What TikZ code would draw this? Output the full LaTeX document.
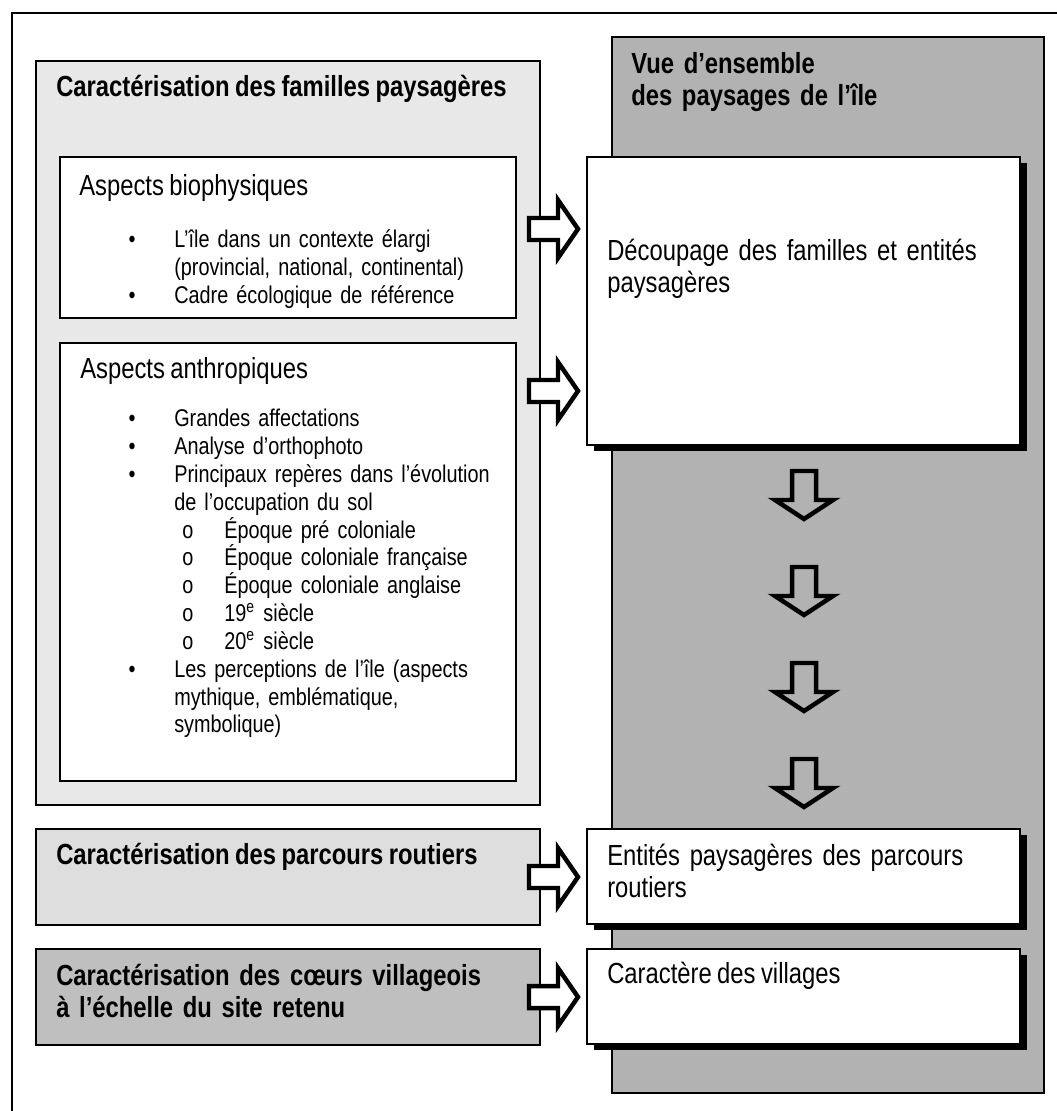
\documentclass[tikz,border=0pt]{standalone}
\usepackage{fontspec}
\setmainfont{Liberation Sans}[FakeStretch=0.82, WordSpace=0.82]
\usetikzlibrary{positioning, fit, shadows}

\definecolor{famfill}{gray}{0.91}
\definecolor{parcfill}{gray}{0.87}
\definecolor{villfill}{gray}{0.75}
\definecolor{vuefill}{gray}{0.70}

\newcommand{\puce}{\leavevmode\llap{\textbullet\hspace{16pt}}}
\newcommand{\souspuce}{\leavevmode\hspace*{3.3pt}\makebox[17.4pt][l]{o}}

\begin{document}
\begin{tikzpicture}[
        x=0.4132pt, y=-0.4132pt,
        box/.style={draw, line width=1pt, inner sep=0pt},
        shadowbox/.style={box, fill=white, drop shadow={shadow xshift=2.9pt, shadow yshift=-2.5pt, fill=black, opacity=1}},
        texte/.style={inner sep=0pt, anchor=base west, align=left, font=\fontsize{12}{13.3}\selectfont},
        titre/.style={texte, font=\fontsize{12}{13.3}\selectfont\bfseries},
        liste/.style={inner sep=0pt, anchor=base west, align=left, text width=150pt, font=\fontsize{10}{11.5}\selectfont},
        flechedroite/.pic={\draw[line width=1.85pt, fill=white, line join=miter] (2,-11) -- (31,-11) -- (31,-29) -- (51,0) -- (31,29) -- (31,11) -- (2,11) -- cycle;},
        flechebas/.pic={\draw[line width=1.85pt, line join=miter] (-12,2) -- (12,2) -- (12,31) -- (29,31) -- (0,50) -- (-29,31) -- (-12,31) -- cycle;}
    ]
    \useasboundingbox (0,0) rectangle (1057,1111);

    % cadre
    \draw[line width=0.8pt] (1057,13) -- (12,13) -- (12,1111);

    % Vue d'ensemble
    \node[box, fill=vuefill, fit={(612,37) (1044,1093)}] (vue) {};
    \node[titre, text width=200pt] (vuet) at ([shift={(20,38)}]vue.north west) {Vue d’ensemble\\des paysages de l’île};

    % Familles paysageres
    \node[box, fill=famfill, fit={(36,61) (540,805)}] (fam) {};
    \node[titre] (famt) at ([shift={(21,37)}]fam.north west) {Caractérisation des familles paysagères};

    \node[box, fill=white, fit={(60,157) (516,318)}] (bio) {};
    \node[texte] (biot) at ([shift={(20,40)}]bio.north west) {Aspects biophysiques};
    \node[liste] (bioliste) at ([shift={(115,92)}]bio.north west) {%
        \puce L’île dans un contexte élargi\\
        (provincial, national, continental)\\
        \puce Cadre écologique de référence};

    \node[box, fill=white, fit={(60,343) (516,781)}] (anthro) {};
    \node[texte] (anthrot) at ([shift={(21,37)}]anthro.north west) {Aspects anthropiques};
    \node[liste] (anthroliste) at ([shift={(115,85)}]anthro.north west) {%
        \puce Grandes affectations\\
        \puce Analyse d’orthophoto\\
        \puce Principaux repères dans l’évolution\\
        de l’occupation du sol\\
        \souspuce Époque pré coloniale\\
        \souspuce Époque coloniale française\\
        \souspuce Époque coloniale anglaise\\
        \souspuce 19\textsuperscript{e} siècle\\
        \souspuce 20\textsuperscript{e} siècle\\
        \puce Les perceptions de l’île (aspects\\
        mythique, emblématique,\\
        symbolique)};

    % Parcours routiers et coeurs villageois
    \node[box, fill=parcfill, fit={(36,829) (540,925)}] (parc) {};
    \node[titre] (parct) at ([shift={(21,37)}]parc.north west) {Caractérisation des parcours routiers};

    \node[box, fill=villfill, fit={(36,949) (540,1045)}] (vill) {};
    \node[titre, text width=200pt] (villt) at ([shift={(21,38)}]vill.north west) {Caractérisation des cœurs villageois\\à l’échelle du site retenu};

    % Resultats
    \node[shadowbox, fit={(587,157) (1020,445)}] (dec) {};
    \node[texte, text width=180pt] (dect) at ([shift={(21,105)}]dec.north west) {Découpage des familles et entités\\paysagères};

    \node[shadowbox, fit={(587,829) (1020,924)}] (ent) {};
    \node[texte, text width=180pt] (entt) at ([shift={(21,38)}]ent.north west) {Entités paysagères des parcours\\routiers};

    \node[shadowbox, fit={(587,949) (1020,1044)}] (car) {};
    \node[texte] (cart) at ([shift={(21,36)}]car.north west) {Caractère des villages};

    % Fleches
    \foreach \fy in {229,391,877,997}
        \pic at (527,\fy) {flechedroite};
    \foreach \fy in {469,565,661,757}
        \pic at (804,\fy) {flechebas};

\end{tikzpicture}
\end{document}
